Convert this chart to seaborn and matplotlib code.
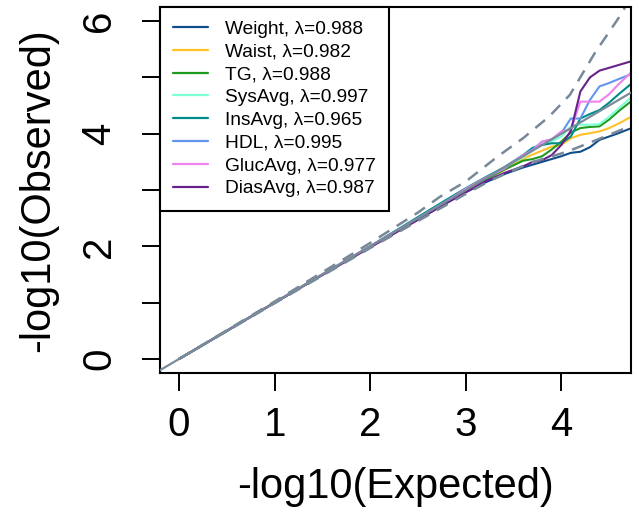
import matplotlib
matplotlib.use('Agg')
import matplotlib.pyplot as plt
import seaborn as sns
import pandas as pd

# shared expected -log10(p) grid for every trait
expected = [0, 1, 2, 2.5, 2.8, 3.0, 3.2, 3.4, 3.6, 3.7, 3.8, 3.9, 4.0, 4.1, 4.2, 4.3, 4.4, 4.5, 4.6, 4.72]

weight = [0, 1, 2, 2.48, 2.77, 2.96, 3.13, 3.28, 3.40, 3.45, 3.50, 3.55, 3.60, 3.66, 3.68, 3.76, 3.89, 3.95, 4.01, 4.09]
waist = [0, 1, 2, 2.5, 2.80, 3.02, 3.18, 3.35, 3.55, 3.63, 3.70, 3.77, 3.80, 3.92, 3.98, 4.01, 4.04, 4.10, 4.18, 4.29]
tg = [0, 1, 2, 2.5, 2.80, 3.00, 3.18, 3.36, 3.52, 3.55, 3.60, 3.72, 3.86, 4.02, 4.10, 4.12, 4.13, 4.25, 4.40, 4.56]
sysavg = [0, 1, 2, 2.51, 2.82, 3.03, 3.22, 3.40, 3.58, 3.70, 3.80, 3.86, 3.95, 4.13, 4.16, 4.16, 4.17, 4.30, 4.45, 4.63]
insavg = [0, 1, 2, 2.52, 2.83, 3.03, 3.22, 3.40, 3.62, 3.75, 3.80, 3.83, 3.83, 3.95, 4.27, 4.35, 4.42, 4.55, 4.70, 4.87]
hdl = [0, 1, 2, 2.5, 2.81, 3.00, 3.20, 3.38, 3.62, 3.72, 3.86, 3.90, 4.01, 4.27, 4.27, 4.60, 4.84, 4.90, 4.97, 5.05]
glucavg = [0, 1, 2, 2.49, 2.80, 3.02, 3.21, 3.38, 3.62, 3.70, 3.86, 3.90, 4.04, 4.07, 4.57, 4.57, 4.57, 4.70, 4.88, 5.07]
diasavg = [0, 1, 1.98, 2.47, 2.77, 2.96, 3.15, 3.30, 3.42, 3.50, 3.53, 3.62, 3.80, 4.05, 4.75, 5.00, 5.12, 5.17, 5.22, 5.28]

traits = ["Weight", "Waist", "TG", "SysAvg", "InsAvg", "HDL", "GlucAvg", "DiasAvg"]
lambdas = ["0.988", "0.982", "0.988", "0.997", "0.965", "0.995", "0.977", "0.987"]
colors = ["#104E8B", "#FFC125", "#1E9A1E", "#7FFFD4", "#008B8B", "#6495ED", "#EE82EE", "#68228B"]

# confidence band
band_up_x = [0, 1, 2, 2.5, 2.73, 3.0, 3.33, 3.6, 3.87, 4.09, 4.35, 4.63, 4.7]
band_up_y = [0, 1.02, 2.06, 2.6, 2.88, 3.15, 3.59, 3.92, 4.30, 4.69, 5.43, 6.13, 6.35]
band_lo_x = [0, 1, 2, 2.5, 3.0, 3.26, 3.67, 4.06, 4.37, 4.63, 4.7]
band_lo_y = [0, 0.99, 1.97, 2.45, 2.93, 3.17, 3.48, 3.68, 3.89, 4.07, 4.12]

series = [weight, waist, tg, sysavg, insavg, hdl, glucavg, diasavg]
rows = []
for name, lam, vals in zip(traits, lambdas, series):
    for e, o in zip(expected, vals):
        rows.append({"expected": e, "observed": o, "trait": f"{name}, \u03bb={lam}"})
df = pd.DataFrame(rows)

sns.set_style("ticks")
plt.rcParams['font.family'] = ['Liberation Sans', 'DejaVu Sans']
plt.rcParams['text.color'] = 'black'
plt.rcParams['axes.labelcolor'] = 'black'
plt.rcParams['xtick.color'] = 'black'
plt.rcParams['ytick.color'] = 'black'

fig = plt.figure(figsize=(6.39, 5.16), dpi=100)
ax = fig.add_axes([0.2504, 0.2771, 0.7371, 0.7093])

sns.lineplot(data=df, x="expected", y="observed", hue="trait",
             palette=colors, linewidth=1.5, ax=ax, sort=False, estimator=None)

# y = x reference and dashed band
ax.axline((0, 0), slope=1, color="#7A8B99", linewidth=1.6, zorder=3)
ax.plot(band_up_x, band_up_y, color="#778899", linestyle=(0, (5, 3.5)), linewidth=1.8)
ax.plot(band_lo_x, band_lo_y, color="#778899", linestyle=(0, (5, 3.5)), linewidth=1.8)

ax.set_xlim(-0.2, 4.73)
ax.set_ylim(-0.25, 6.25)
ax.set_xticks([0, 1, 2, 3, 4])
ax.set_yticks([0, 1, 2, 3, 4, 5, 6])
ax.set_yticklabels(["0", "", "2", "", "4", "", "6"], rotation=90, va="center")
ax.tick_params(labelsize=29, length=13, width=1.4, color="black", labelcolor="black")
ax.tick_params(axis="y", pad=17)
ax.tick_params(axis="x", pad=11)
ax.set_xlabel("-log10(Expected)", fontsize=30, labelpad=16, color="black")
ax.set_ylabel("-log10(Observed)", fontsize=30, labelpad=16, color="black")
for s in ax.spines.values():
    s.set_linewidth(1.5)
    s.set_color("black")

leg = ax.legend(loc="upper left", bbox_to_anchor=(0, 1), borderaxespad=0,
                fontsize=13.8, handlelength=1.8, handletextpad=0.9,
                labelspacing=0.28, borderpad=0.7, fancybox=False, framealpha=1)
leg.get_frame().set_edgecolor("black")
leg.get_frame().set_linewidth(1.5)
for t in leg.get_texts():
    t.set_color("black")
for line in leg.get_lines():
    line.set_linewidth(1.6)

plt.savefig("out.png", dpi=100)
plt.close()
